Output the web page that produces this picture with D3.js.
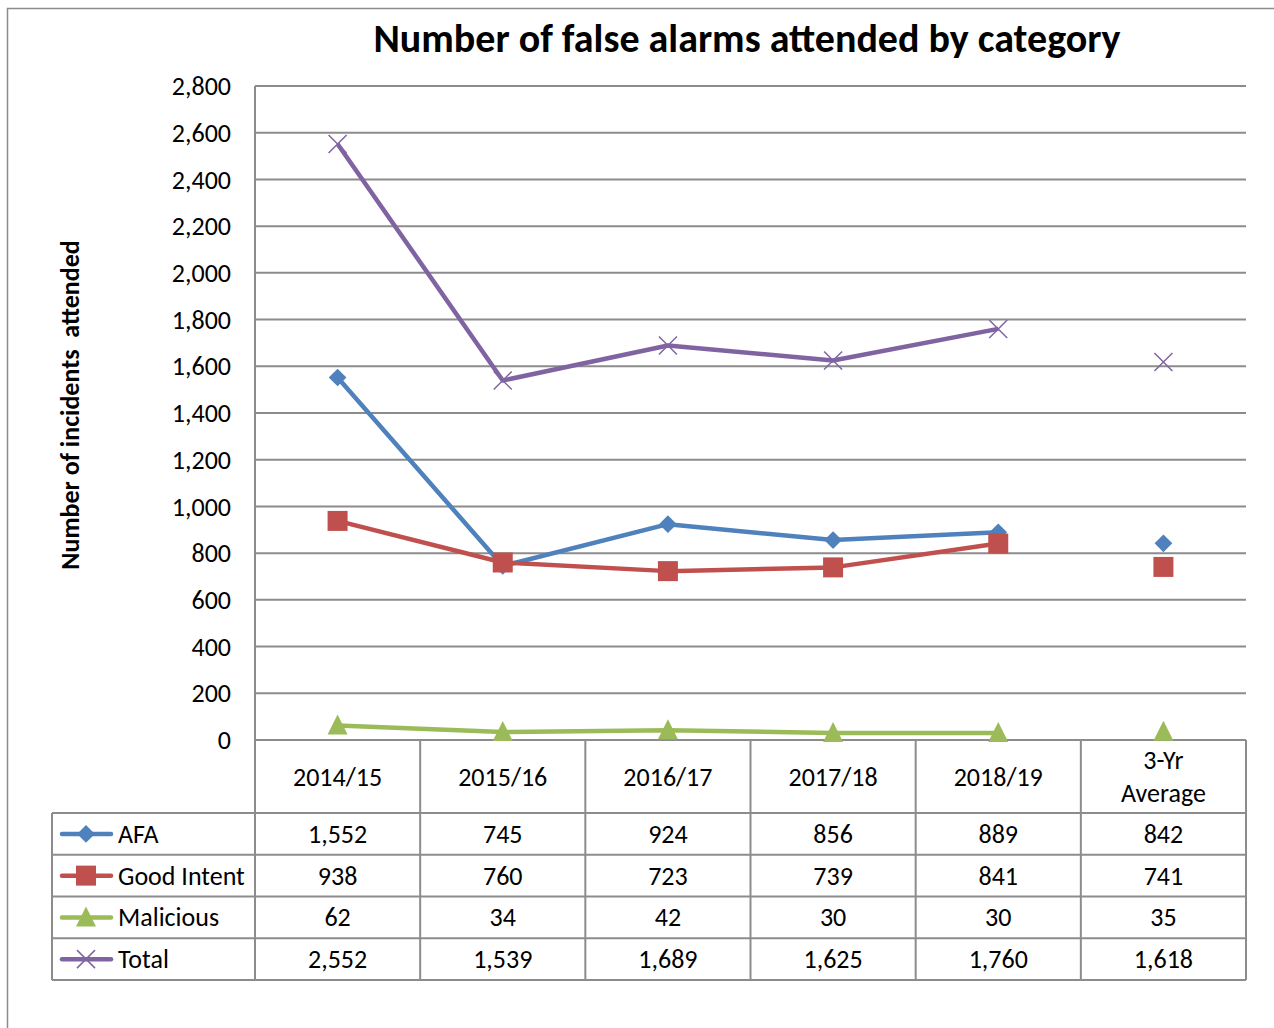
<!DOCTYPE html>
<html>
<head>
<meta charset="utf-8">
<script src="https://cdn.jsdelivr.net/npm/d3@7"></script>
<style>
  body { margin: 0; background: #fff; }
  svg { display: block; font-family: Carlito, "Open Sans", "Noto Sans", sans-serif; }
</style>
</head>
<body>
<svg id="chart" width="1274" height="1028"></svg>
<script>
// categories and series values
const categories = ['2014/15', '2015/16', '2016/17', '2017/18', '2018/19', '3-Yr Average'];
const afa = [1552, 745, 924, 856, 889, 842];
const goodIntent = [938, 760, 723, 739, 841, 741];
const malicious = [62, 34, 42, 30, 30, 35];
const total = [2552, 1539, 1689, 1625, 1760, 1618];
const yTicks = [0, 200, 400, 600, 800, 1000, 1200, 1400, 1600, 1800, 2000, 2200, 2400, 2600, 2800];

const series = [
  {name: 'AFA', values: afa, color: '#4F81BD', marker: 'diamond'},
  {name: 'Good Intent', values: goodIntent, color: '#C0504D', marker: 'square'},
  {name: 'Malicious', values: malicious, color: '#9BBB59', marker: 'triangle'},
  {name: 'Total', values: total, color: '#8064A2', marker: 'cross'}
];

const plot = {left: 255, right: 1246, top: 86, bottom: 740};
const gridColor = '#8c8c8c';
const fontSize = 26;

const svg = d3.select('#chart');

// outer frame
svg.append('rect')
  .attr('x', 7.5).attr('y', 8.5)
  .attr('width', 1300).attr('height', 1100)
  .attr('fill', 'none').attr('stroke', '#8c8c8c').attr('stroke-width', 1.5);

svg.append('text')
  .attr('x', 747).attr('y', 52)
  .attr('text-anchor', 'middle')
  .attr('font-size', 40).attr('font-weight', 'bold')
  .text('Number of false alarms attended by category');

let x = d3.scaleBand().domain(categories).range([plot.left, plot.right]);
let y = d3.scaleLinear().domain([0, 2800]).range([plot.bottom, plot.top]);

// gridlines
svg.append('g')
  .selectAll('line')
  .data(yTicks)
  .enter().append('line')
  .attr('x1', plot.left).attr('x2', plot.right)
  .attr('y1', (d) => y(d)).attr('y2', (d) => y(d))
  .attr('stroke', gridColor).attr('stroke-width', 2);

// left axis line
svg.append('line')
  .attr('x1', plot.left).attr('x2', plot.left)
  .attr('y1', plot.top).attr('y2', plot.bottom)
  .attr('stroke', gridColor).attr('stroke-width', 2);

// y tick labels
svg.append('g')
  .selectAll('text')
  .data(yTicks)
  .enter().append('text')
  .attr('x', 231).attr('y', (d) => y(d))
  .attr('dy', '0.35em')
  .attr('text-anchor', 'end')
  .attr('font-size', fontSize)
  .text((d) => d3.format(',')(d));

svg.append('text')
  .attr('transform', 'translate(79,' + 405 + ') rotate(-90)')
  .attr('text-anchor', 'middle')
  .attr('font-size', 26).attr('font-weight', 'bold')
  .attr('xml:space', 'preserve')
  .text('Number of incidents  attended');

function markerPath(type) {
  if (type === 'diamond') return d3.symbol(d3.symbolDiamond2, 200)();
  if (type === 'square') return 'M-10,-10H10V10H-10Z';
  if (type === 'triangle') return 'M0,-11L10,9H-10Z';
  return 'M-9,-9L9,9M-9,9L9,-9';
}

const cx = (i) => x(categories[i]) + x.bandwidth() / 2;

let drawLine = d3.line()
  .x((d, i) => cx(i))
  .y((d) => y(d));

series.forEach((s) => {
  // the 3-yr average is not joined to the yearly values
  svg.append('path')
    .attr('d', drawLine(s.values.slice(0, 5)))
    .attr('fill', 'none')
    .attr('stroke', s.color)
    .attr('stroke-width', 4.5)
    .attr('stroke-linejoin', 'round');

  svg.append('g')
    .selectAll('path')
    .data(s.values)
    .enter().append('path')
    .attr('transform', (d, i) => 'translate(' + cx(i) + ',' + y(d) + ')')
    .attr('d', markerPath(s.marker))
    .attr('fill', s.marker === 'cross' ? 'none' : s.color)
    .attr('stroke', s.marker === 'cross' ? s.color : 'none')
    .attr('stroke-width', 1.5);
});

// data table
const headerBottom = 813;
const rowH = 41.75;
const tableLeft = 52;
const tableBottom = headerBottom + rowH * series.length;
const tbl = svg.append('g').attr('stroke', gridColor).attr('stroke-width', 2);

// vertical lines in the header and body
x.domain().concat(['end']).forEach((c, i) => {
  const xx = plot.left + i * x.bandwidth();
  tbl.append('line')
    .attr('x1', xx).attr('x2', xx)
    .attr('y1', plot.bottom).attr('y2', tableBottom);
});
tbl.append('line')
  .attr('x1', tableLeft).attr('x2', tableLeft)
  .attr('y1', headerBottom).attr('y2', tableBottom);

for (let r = 0; r <= series.length; r++) {
  const yy = headerBottom + r * rowH;
  tbl.append('line')
    .attr('x1', tableLeft).attr('x2', plot.right)
    .attr('y1', yy).attr('y2', yy);
}

// header labels
categories.forEach((c, i) => {
  const t = svg.append('text')
    .attr('x', cx(i))
    .attr('text-anchor', 'middle')
    .attr('font-size', fontSize);
  if (c === '3-Yr Average') {
    t.append('tspan').attr('x', cx(i)).attr('y', 769).text('3-Yr');
    t.append('tspan').attr('x', cx(i)).attr('y', 802).text('Average');
  } else {
    t.attr('y', 786).text(c);
  }
});

series.forEach((s, r) => {
  const rowMid = headerBottom + r * rowH + rowH / 2;
  svg.append('line')
    .attr('x1', 62).attr('x2', 111)
    .attr('y1', rowMid).attr('y2', rowMid)
    .attr('stroke', s.color).attr('stroke-width', 4.5)
    .attr('stroke-linecap', 'round');
  svg.append('path')
    .attr('transform', 'translate(86,' + rowMid + ')')
    .attr('d', markerPath(s.marker))
    .attr('fill', s.marker === 'cross' ? 'none' : s.color)
    .attr('stroke', s.marker === 'cross' ? s.color : 'none')
    .attr('stroke-width', 1.5);
  svg.append('text')
    .attr('x', 118).attr('y', rowMid)
    .attr('dy', '0.35em')
    .attr('font-size', fontSize)
    .text(s.name);

  svg.append('g')
    .selectAll('text')
    .data(s.values)
    .enter().append('text')
    .attr('x', (d, i) => cx(i))
    .attr('y', rowMid)
    .attr('dy', '0.35em')
    .attr('text-anchor', 'middle')
    .attr('font-size', fontSize)
    .text((d) => d3.format(',')(d));
});
</script>
</body>
</html>
